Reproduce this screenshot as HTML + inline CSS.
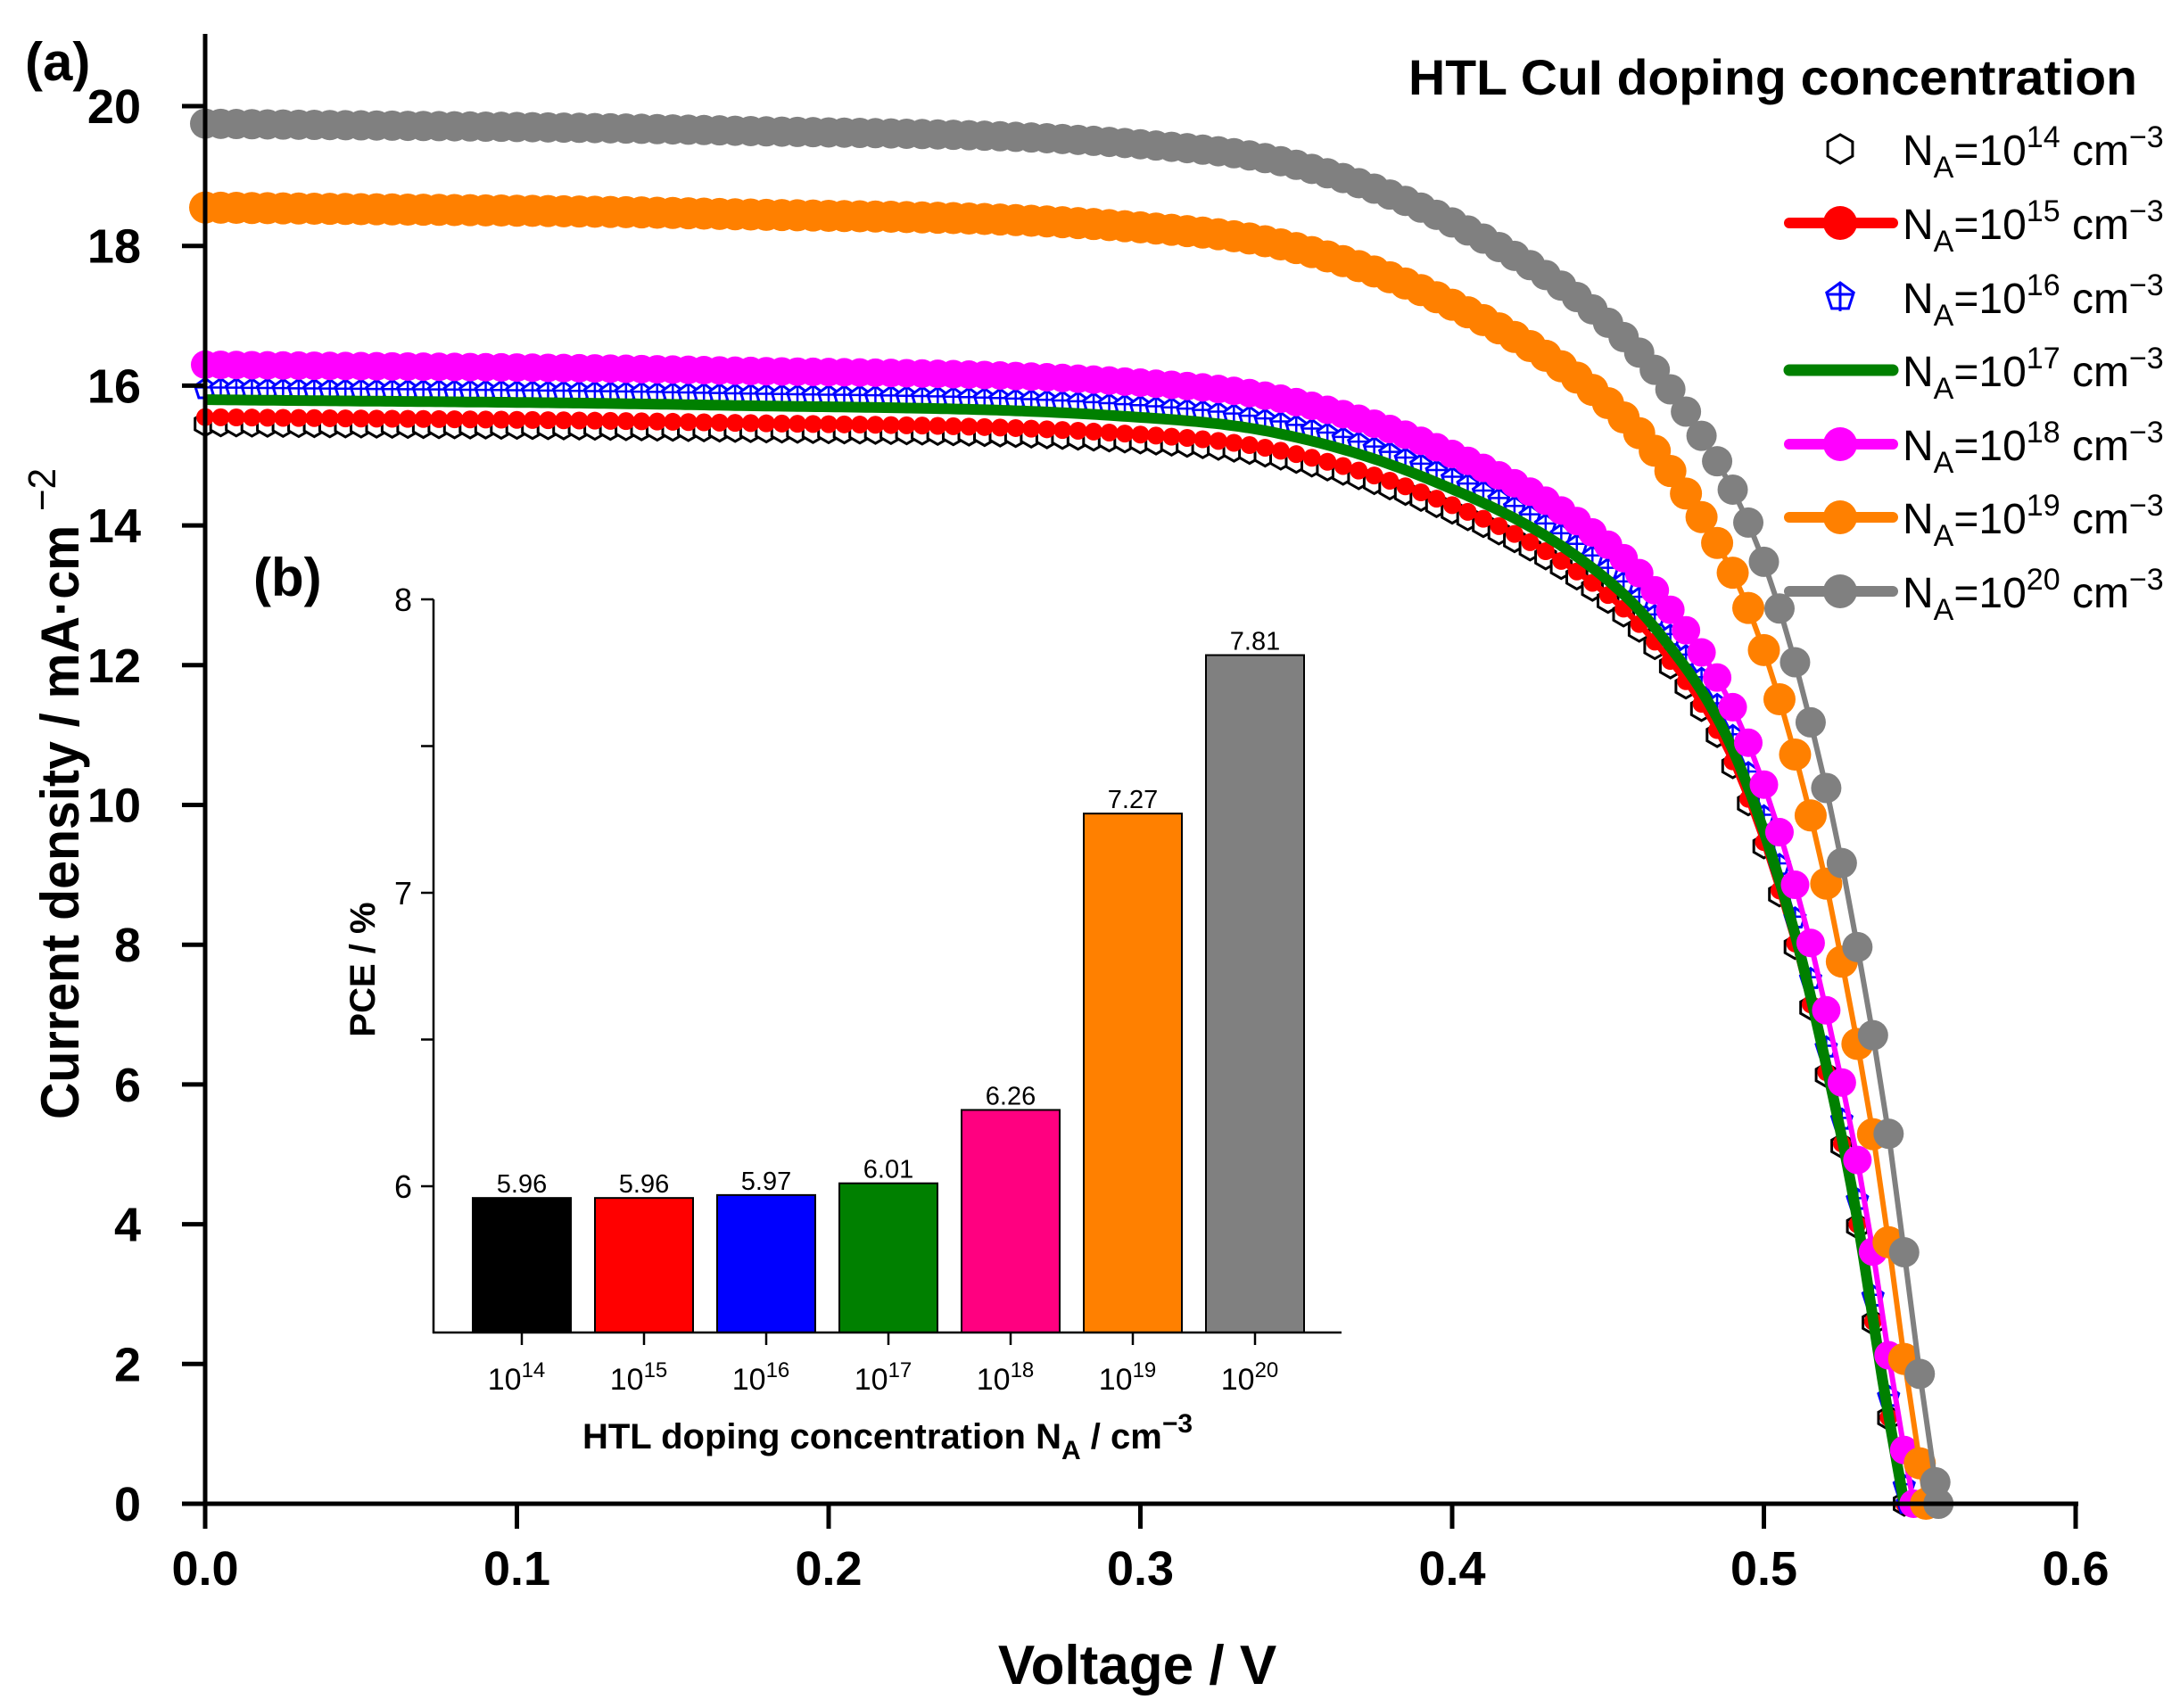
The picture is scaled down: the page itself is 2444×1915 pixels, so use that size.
<!DOCTYPE html>
<html><head><meta charset="utf-8"><style>
html,body{margin:0;padding:0;background:#fff}
svg{display:block}
text{font-family:"Liberation Sans",Arial,sans-serif}
</style></head><body>
<svg id="s" xmlns="http://www.w3.org/2000/svg" width="2444" height="1915" viewBox="0 0 2444 1915">
<rect width="2444" height="1915" fill="#fff"/>
<g id="curves"></g>
<g stroke="#000" stroke-width="5" fill="none">
<line x1="230" y1="38" x2="230" y2="1688"/>
<line x1="228" y1="1686" x2="2330" y2="1686"/>
</g>
<g id="ticks" stroke="#000" stroke-width="5"></g>
<g id="tlabels" font-weight="bold" font-size="54"></g>
<text x="1275" y="1888" font-size="62" font-weight="bold" text-anchor="middle">Voltage / V</text>
<text transform="translate(88,890) rotate(-90)" font-size="60" font-weight="bold" text-anchor="middle" textLength="730" lengthAdjust="spacingAndGlyphs">Current density / mA·cm <tspan font-weight="normal" dy="-26" font-size="44">−2</tspan></text>
<text x="28" y="90" font-size="60" font-weight="bold">(a)</text>
<text x="284" y="668" font-size="60" font-weight="bold">(b)</text>
<text x="2396" y="106" font-size="56" font-weight="bold" text-anchor="end" textLength="817" lengthAdjust="spacingAndGlyphs">HTL CuI doping concentration</text>
<g id="legend"></g>
<g id="inset"></g>
</svg>
<script>
const NS="http://www.w3.org/2000/svg";
function el(t,a,p,txt){const e=document.createElementNS(NS,t);for(const k in a)e.setAttribute(k,a[k]);if(txt!==undefined)e.textContent=txt;(p||document.getElementById('s')).appendChild(e);return e;}
const X=v=>230+v*3495, Y=j=>1686-j*78.35;
const tk=document.getElementById('ticks'),tl=document.getElementById('tlabels');
for(let i=0;i<=10;i++){const y=Y(i*2);el('line',{x1:204,y1:y,x2:230,y2:y},tk);el('text',{x:158,y:y+19,'text-anchor':'end'},tl,String(i*2));}
for(let i=0;i<=6;i++){const x=X(i/10);el('line',{x1:x,y1:1686,x2:x,y2:1714},tk);el('text',{x:x,y:1777,'text-anchor':'middle'},tl,(i/10).toFixed(1));}
// monotone cubic shape
const tab=[[0,1],[0.3,0.995],[0.54,0.985],[0.63,0.97],[0.72,0.928],[0.81,0.855],[0.855,0.79],[0.9,0.68],[0.935,0.52],[0.953,0.405],[0.971,0.27],[0.989,0.096],[1,0]];
const n=tab.length,xs=tab.map(a=>a[0]),ys=tab.map(a=>a[1]);
const d=[],m=[];for(let i=0;i<n-1;i++)d.push((ys[i+1]-ys[i])/(xs[i+1]-xs[i]));
m[0]=d[0];m[n-1]=d[n-2];for(let i=1;i<n-1;i++)m[i]=(d[i-1]*d[i]<=0)?0:(d[i-1]+d[i])/2;
for(let i=0;i<n-1;i++){if(d[i]===0){m[i]=m[i+1]=0;continue;}const a=m[i]/d[i],b=m[i+1]/d[i],h=a*a+b*b;if(h>9){const t=3/Math.sqrt(h);m[i]=t*a*d[i];m[i+1]=t*b*d[i];}}
function g(x){if(x<=0)return 1;if(x>=1)return 0;let i=0;while(x>xs[i+1])i++;const h=xs[i+1]-xs[i],t=(x-xs[i])/h,t2=t*t,t3=t2*t;
 return (2*t3-3*t2+1)*ys[i]+(t3-2*t2+t)*h*m[i]+(-2*t3+3*t2)*ys[i+1]+(t3-t2)*h*m[i+1];}
function pts(js,voc,step){const r=[];for(let v=0;v<voc-1e-9;v+=step)r.push([v,js*g(v/voc)]);r.push([voc,0]);return r;}
const C=document.getElementById('curves');
function line(p,col,w){el('polyline',{points:p.map(q=>X(q[0]).toFixed(1)+','+Y(q[1]).toFixed(1)).join(' '),fill:'none',stroke:col,'stroke-width':w,'stroke-linejoin':'round'},C);}
function poly(cx,cy,n,r,rot){let s=[];for(let i=0;i<n;i++){const a=rot+i*2*Math.PI/n;s.push((cx+r*Math.cos(a)).toFixed(1)+','+(cy+r*Math.sin(a)).toFixed(1));}return s.join(' ');}
const series=[
 {js:15.45,voc:0.545,type:'hex',col:'#000'},
 {js:15.55,voc:0.545,type:'circ',col:'#ff0000',r:10,lw:7},
 {js:15.95,voc:0.546,type:'pent',col:'#0000ff'},
 {js:15.8,voc:0.545,type:'line',col:'#008000',lw:12},
 {js:16.3,voc:0.548,type:'circ',col:'#ff00ff',r:16,lw:6},
 {js:18.55,voc:0.552,type:'circ',col:'#ff8000',r:18,lw:6},
 {js:19.75,voc:0.556,type:'circ',col:'#808080',r:17,lw:6}
];
for(const s of series){
 const p=pts(s.js,s.voc,0.005);
 if(s.type==='hex'){for(const q of p)el('polygon',{points:poly(X(q[0]),Y(q[1]),6,13,Math.PI/2),fill:'#fff',stroke:'#000','stroke-width':3},C);}
 else if(s.type==='pent'){line(p,s.col,3);for(const q of p){const cx=X(q[0]),cy=Y(q[1]);el('polygon',{points:poly(cx,cy,5,12,-Math.PI/2),fill:'#fff',stroke:s.col,'stroke-width':3},C);el('path',{d:`M${cx-10},${cy-2}H${cx+10}M${cx},${cy-12}V${cy+10}`,stroke:s.col,'stroke-width':2.5},C);}}
 else if(s.type==='line'){line(pts(s.js,s.voc,0.002),s.col,s.lw);}
 else {line(p,s.col,s.lw);for(const q of p)el('circle',{cx:X(q[0]),cy:Y(q[1]),r:s.r,fill:s.col},C);}
}
const L=document.getElementById('legend');
const rows=[167,250,333,415,498,580,663],exps=['14','15','16','17','18','19','20'];
rows.forEach((y,i)=>{const s=series[i];
 if(s.type==='hex')el('polygon',{points:poly(2063,y,6,16,Math.PI/2),fill:'#fff',stroke:'#000','stroke-width':3},L);
 else if(s.type==='pent'){el('polygon',{points:poly(2063,y,5,16,-Math.PI/2),fill:'#fff',stroke:s.col,'stroke-width':3},L);el('path',{d:`M2049,${y-3}H2077M2063,${y-16}V${y+16}`,stroke:s.col,'stroke-width':3},L);}
 else{el('line',{x1:2006,y1:y,x2:2122,y2:y,stroke:s.col,'stroke-width':s.type==='line'?13:12,'stroke-linecap':'round'},L);if(s.type==='circ')el('circle',{cx:2063,cy:y,r:19,fill:s.col},L);}
 const t=el('text',{x:2133,y:y+18,'font-size':48},L);
 t.innerHTML=`N<tspan font-size="34" dy="14">A</tspan><tspan dy="-14">=10</tspan><tspan font-size="34" dy="-20">${exps[i]}</tspan><tspan dy="20"> cm</tspan><tspan font-size="34" dy="-20">−3</tspan>`;
});
const I=document.getElementById('inset');
const PY=p=>672+(8-p)*329;
const vals=[5.96,5.96,5.97,6.01,6.26,7.27,7.81],cols=['#000','#ff0000','#0000ff','#008000','#ff0080','#ff8000','#808080'];
vals.forEach((v,i)=>{const cx=585+i*137;el('rect',{x:cx-55,y:PY(v),width:110,height:1494-PY(v),fill:cols[i],stroke:'#000','stroke-width':2},I);
 el('text',{x:cx,y:PY(v)-6,'font-size':29,'text-anchor':'middle'},I,v.toFixed(2));
 el('line',{x1:cx,y1:1494,x2:cx,y2:1508,stroke:'#000','stroke-width':2.5},I);
 const t=el('text',{x:cx-6,y:1558,'font-size':34,'text-anchor':'middle'},I);t.innerHTML=`10<tspan font-size="24" dy="-14">${exps[i]}</tspan>`;});
el('line',{x1:486,y1:672,x2:486,y2:1495,stroke:'#000','stroke-width':2.5},I);
el('line',{x1:485,y1:1494,x2:1504,y2:1494,stroke:'#000','stroke-width':2.5},I);
[8,7.5,7,6.5,6].forEach(p=>{el('line',{x1:472,y1:PY(p),x2:486,y2:PY(p),stroke:'#000','stroke-width':2.5},I);if(p%1===0)el('text',{x:462,y:PY(p)+13,'font-size':36,'text-anchor':'end'},I,String(p));});
el('text',{transform:'translate(420,1087) rotate(-90)','font-size':40,'font-weight':'bold','text-anchor':'middle'},I,'PCE / %');
const xt=el('text',{x:995,y:1624,'font-size':40,'font-weight':'bold','text-anchor':'middle'},I);
xt.innerHTML='HTL doping concentration N<tspan font-size="30" dy="12">A</tspan><tspan dy="-12"> / cm</tspan><tspan font-size="30" dy="-18">−3</tspan>';
</script>
</body></html>
